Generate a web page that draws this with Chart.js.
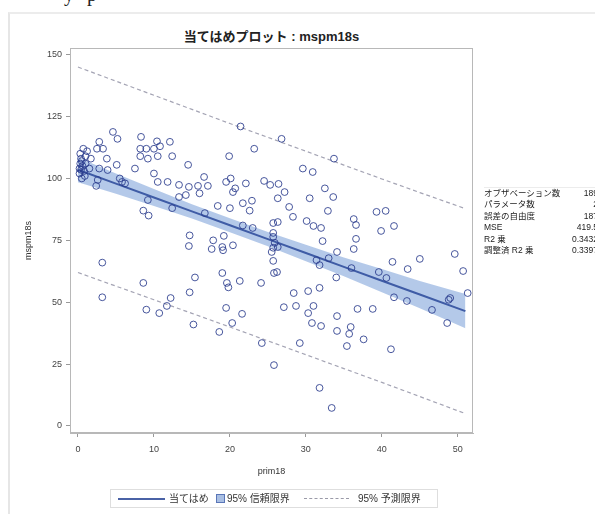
<!DOCTYPE html>
<html>
<head>
<meta charset="utf-8">
<script src="https://cdn.jsdelivr.net/npm/chart.js@4/dist/chart.umd.min.js"></script>
<style>
  body { margin: 0; background: #fff; font-family: "Liberation Sans", "Noto Sans CJK JP", sans-serif; }
  #wrap { position: relative; width: 595px; height: 514px; overflow: hidden; }
  #frame { position: absolute; left: 8px; top: 12px; right: -2px; bottom: -2px; border-left: 2px solid #e6e6e6; border-top: 2px solid #ececec; }
  #cut { position: absolute; left: 64px; top: -17px; font: 20px "Liberation Serif", serif; color: #222; letter-spacing: 4px; }
  #title { position: absolute; left: 70px; width: 403px; top: 26px; text-align: center; font-weight: bold; font-size: 13px; color: #222; }
  #stats { position: absolute; left: 484px; top: 187px; width: 114px; border-top: 1px solid #ececec; font-size: 8.5px; color: #222; }
  #stats div { position: relative; height: 11.4px; line-height: 11.4px; }
  #stats span.v { position: absolute; right: 0; }
  #legend { position: absolute; left: 110px; top: 489px; width: 326px; height: 17px; border: 1px solid #dedede; font-size: 10px; color: #333; }
  #legend > * { position: absolute; }
  .lt { top: 2px; line-height: 13px; }
</style>
</head>
<body>
<div id="wrap">
  <div id="frame"></div>
  <div id="cut">y p</div>
  <div id="title">当てはめプロット : mspm18s</div>
  <canvas id="fitPlot" width="595" height="514" style="position:absolute;left:0;top:0"></canvas>
  <div id="stats"></div>
  <div id="legend">
    <span style="left:7px;top:8px;width:47px;border-top:2px solid #4a62a6"></span>
    <span class="lt" style="left:58px">当てはめ</span>
    <span style="left:105px;top:4px;width:7px;height:7px;background:#a9bfe3;border:1px solid #5a76b8"></span>
    <span class="lt" style="left:116px">95% 信頼限界</span>
    <span style="left:193px;top:8px;width:45px;border-top:1px dashed #9a9aa8"></span>
    <span class="lt" style="left:247px">95% 予測限界</span>
  </div>
</div>
<script>
const prim18 = [
  0.2, 0.3, 0.4, 0.5, 0.3, 0.6, 0.8, 0.2, 0.5, 1.0, 0.7, 1.5, 1.0, 0.4, 0.9, 2.6, 5.8,
  4.6, 5.2, 8.3, 10.4, 12.1, 2.8, 3.3, 2.5, 1.2, 1.7, 3.8, 8.2, 9.0, 10.0, 10.8, 8.2,
  9.2, 10.5, 12.4, 14.5, 19.9, 7.5, 5.1, 2.8, 3.9, 5.5, 6.2, 2.4, 10.0, 10.5, 11.8, 13.3,
  14.6, 15.8, 16.6, 17.1, 16.0, 19.5, 20.1, 20.7, 20.4, 22.1, 24.5, 25.3, 13.3, 14.2, 9.2, 12.4,
  16.7, 18.4, 20.0, 21.7, 22.9, 22.6, 8.6, 9.3, 21.7, 25.7, 14.7, 14.6, 17.8, 19.2, 19.0, 20.4,
  17.6, 25.7, 25.7, 21.4, 23.2, 3.2, 3.2, 8.6, 9.0, 10.7, 11.7, 12.2, 14.7, 15.4, 15.2, 19.0,
  19.6, 19.8, 21.3, 19.5, 21.6, 20.3, 18.6, 24.1, 24.2, 25.8, 25.7, 25.8, 26.8, 33.7, 29.6, 30.9,
  26.4, 27.2, 26.3, 32.5, 33.6, 30.5, 27.8, 28.3, 32.9, 30.1, 31.0, 32.0, 32.2, 36.3, 36.6, 39.3,
  40.5, 41.6, 39.9, 36.6, 36.3, 34.1, 31.4, 31.8, 33.0, 34.0, 41.4, 43.4, 45.0, 49.6, 50.7, 39.6,
  40.6, 28.4, 30.3, 31.8, 51.3, 49.0, 27.1, 28.7, 30.3, 31.0, 30.8, 32.0, 34.1, 34.1, 35.7, 35.9,
  35.4, 37.6, 36.8, 38.8, 41.2, 41.6, 43.3, 46.6, 48.8, 48.6, 36.0, 29.2, 31.8, 33.4,
  23.0, 25.7, 25.9, 26.3, 25.5, 26.2, 19.1, 26.3
];
const mspm18s = [
  104, 106, 108, 107, 110, 105, 103, 102, 100, 109, 112, 104, 106, 103.5, 101, 99.4, 98.6,
  118.8, 116, 116.8, 115, 114.8, 114.8, 112, 112, 111, 108, 108, 112, 112, 112, 113, 109,
  108, 109, 109, 105.5, 109, 104, 105.5, 104, 103.4, 100, 98, 97, 102, 98.6, 98.6, 97.4,
  96.6, 97, 100.6, 97, 94, 98.6, 100, 96, 94.5, 98, 99, 97.4, 92.5, 93.3, 91.3, 88,
  86, 88.9, 88, 90, 91, 87, 87, 85, 81, 82, 77, 72.7, 75, 76.8, 72.3, 73,
  71.5, 76.4, 72, 121, 112, 66, 52, 57.8, 47, 45.6, 48.5, 51.7, 54, 60, 41, 61.8,
  57.8, 56, 58.6, 47.7, 45.3, 41.6, 38, 57.8, 33.5, 24.6, 66.7, 61.8, 116, 108, 104, 102.6,
  97.8, 94.5, 92, 96, 92.5, 92, 88.5, 84.5, 86.9, 82.8, 80.8, 80, 74.7, 83.6, 81.2, 86.5,
  86.9, 80.8, 78.8, 75.6, 71.5, 70.3, 67, 65, 67.8, 60, 66.3, 63.4, 67.5, 69.5, 62.6, 62.2,
  59.8, 53.7, 54.5, 55.8, 53.7, 51.7, 48, 48.5, 45.6, 48.5, 41.6, 40.4, 44.4, 38.4, 37.2, 40,
  32.3, 35, 47.3, 47.3, 31, 52, 50.5, 46.9, 51, 41.6, 63.8, 33.5, 15.4, 7.3,
  80, 78, 74, 72.3, 70.3, 62.2, 71, 82.4
];

// fitted line, 95% confidence and prediction limits
const curveX    = [0, 5, 10, 15, 20, 25, 30, 35, 40, 45, 51];
const fitY      = [103.5, 97.9, 92.3, 86.7, 81.1, 75.5, 69.9, 64.3, 58.7, 53.1, 46.4];
const clmUpper  = [108.5, 102.0, 95.7, 89.6, 83.9, 78.4, 73.2, 68.1, 63.4, 58.6, 53.3];
const clmLower  = [98.5, 93.8, 88.9, 83.8, 78.3, 72.6, 66.6, 60.5, 54.0, 47.6, 39.5];
const pred95Up  = [145.0, 139.3, 133.6, 127.9, 122.2, 116.6, 111.0, 105.4, 99.8, 94.3, 87.8];
const pred95Low = [62.0, 56.5, 51.0, 45.5, 40.0, 34.4, 28.8, 23.2, 17.6, 11.9, 5.0];

const xTicks = [0, 10, 20, 30, 40, 50];
const yTicks = [0, 25, 50, 75, 100, 125, 150];

// fit statistics table
const statLabels = ['オブザベーション数', 'パラメータ数', '誤差の自由度', 'MSE', 'R2 乗', '調整済 R2 乗'];
const statValues = ['189', '2', '187', '419.5', '0.3432', '0.3397'];

const statsBox = document.getElementById('stats');
statLabels.forEach((lab, i) => {
    const row = document.createElement('div');
    row.innerHTML = `<span>${lab}</span><span class="v">${statValues[i]}</span>`;
    statsBox.appendChild(row);
});

function toXY(xs, ys) {
    return xs.map((x, i) => ({ x: x, y: ys[i] }));
}

// draws the box round the plot area
const frameBox = {
    id: 'frameBox',
    afterDraw(chart) {
        const { ctx, chartArea: a } = chart;
        ctx.save();
        ctx.strokeStyle = '#b8b8b8';
        ctx.lineWidth = 1;
        ctx.strokeRect(a.left + 0.5, a.top + 0.5, a.right - a.left - 1, a.bottom - a.top - 1);
        ctx.restore();
    }
};

const tickFont = { family: 'Liberation Sans', size: 9 };

new Chart(document.getElementById('fitPlot'), {
    type: 'scatter',
    data: {
        datasets: [
            {
                label: 'mspm18s',
                data: toXY(prim18, mspm18s),
                pointStyle: 'circle',
                pointRadius: 3.4,
                pointBorderWidth: 1,
                pointBorderColor: 'rgba(40,58,140,0.85)',
                pointBackgroundColor: 'rgba(0,0,0,0)'
            },
            {
                label: '当てはめ',
                data: toXY(curveX, fitY),
                showLine: true,
                pointRadius: 0,
                borderColor: '#3f5ca6',
                borderWidth: 2
            },
            {
                label: '95% 信頼限界',
                data: toXY(curveX, clmUpper),
                showLine: true,
                pointRadius: 0,
                borderWidth: 0,
                borderColor: 'rgba(0,0,0,0)',
                backgroundColor: 'rgba(130,165,218,0.6)',
                fill: '+1'
            },
            {
                label: 'clm lower',
                data: toXY(curveX, clmLower),
                showLine: true,
                pointRadius: 0,
                borderWidth: 0,
                borderColor: 'rgba(0,0,0,0)'
            },
            {
                label: '95% 予測限界',
                data: toXY(curveX, pred95Up),
                showLine: true,
                pointRadius: 0,
                borderColor: '#a4a4b4',
                borderWidth: 1.2,
                borderDash: [4, 3]
            },
            {
                label: 'pred lower',
                data: toXY(curveX, pred95Low),
                showLine: true,
                pointRadius: 0,
                borderColor: '#a4a4b4',
                borderWidth: 1.2,
                borderDash: [4, 3]
            }
        ]
    },
    options: {
        responsive: false,
        animation: false,
        layout: { padding: { left: 10, top: 48, right: 122, bottom: 34 } },
        plugins: {
            legend: { display: false },
            tooltip: { enabled: false }
        },
        scales: {
            x: {
                type: 'linear',
                min: -1.05,
                max: 52,
                afterFit: (scale) => { scale.height = 47; },
                afterBuildTicks: (scale) => { scale.ticks = xTicks.map(v => ({ value: v })); },
                grid: { drawOnChartArea: false, tickLength: 4, color: '#999' },
                border: { display: true, color: '#b8b8b8' },
                ticks: { font: tickFont, color: '#444', padding: 7, maxRotation: 0 },
                title: { display: true, text: 'prim18', font: { family: 'Liberation Sans', size: 9 }, color: '#333', padding: { bottom: 3 } }
            },
            y: {
                type: 'linear',
                min: -2.83,
                max: 152.7,
                afterFit: (scale) => { scale.width = 60; },
                afterBuildTicks: (scale) => { scale.ticks = yTicks.map(v => ({ value: v })); },
                grid: { drawOnChartArea: false, tickLength: 4, color: '#999' },
                border: { display: true, color: '#b8b8b8' },
                ticks: { font: tickFont, color: '#444', padding: 4 },
                title: { display: true, text: 'mspm18s', font: { family: 'Liberation Sans', size: 9 }, color: '#333', padding: { top: 13 } }
            }
        }
    },
    plugins: [frameBox]
});
</script>
</body>
</html>
